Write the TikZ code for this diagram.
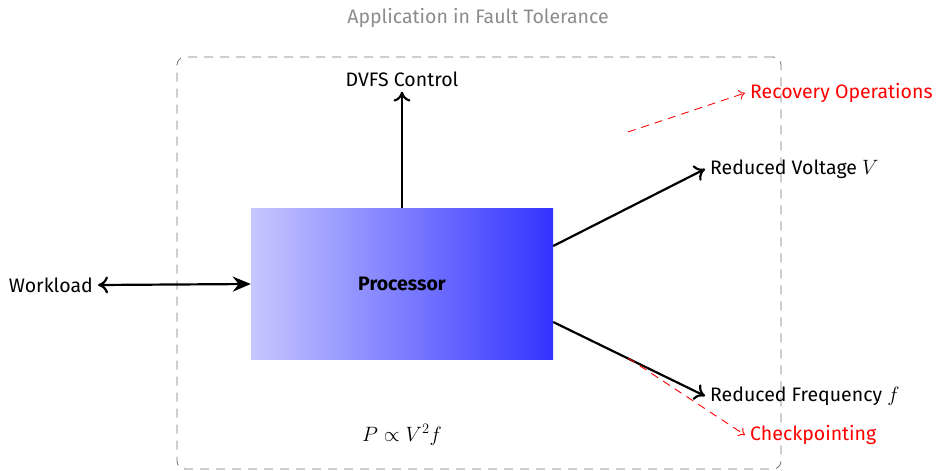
\documentclass[tikz,border=0pt]{standalone}
\usepackage{fontspec}
\setmainfont{Fira Sans}
\usepackage{tikz}
\usetikzlibrary{arrows.meta, calc}
\usetikzlibrary{shapes}
\tikzset{
  plain/.style = {font=\fontsize{19.5}{23}\selectfont, inner sep=5pt},
  proc/.style = {rectangle, left color=blue!22, right color=blue!80, minimum width=302pt, minimum height=151pt, font=\fontsize{19.5}{23}\selectfont\bfseries},
  frame/.style = {rectangle, rounded corners=8pt, draw=black!55, dash pattern=on 9pt off 7pt, line width=0.8pt, minimum width=604pt, minimum height=412pt},
  flow/.style = {draw, line width=2.2pt, -{To[length=10pt,width=17pt]}},
  note/.style = {plain, red},
  fault/.style = {draw=red, line width=0.9pt, dash pattern=on 8pt off 6pt, -{To[length=6pt,width=10pt]}}
}

\begin{document}
\begin{tikzpicture}[x=1pt, y=-1pt]
    \useasboundingbox (0,0) rectangle (937,471);
    \node[frame] (box) at (479,263) {};
    \node[plain, text=black!45] (title) at (478,18) {Application in Fault Tolerance};
    \node[proc] (cpu) at (402,284) {Processor};
    \node[plain, anchor=east] (work) at (98,285) {Workload};
    \node[plain] (dvfs) at (402,79) {DVFS Control};
    \node[plain, anchor=west] (volt) at (705,169) {Reduced Voltage $V$};
    \node[plain, anchor=west] (freq) at (705,396) {Reduced Frequency $f$};
    \node[note, anchor=west] (rec) at (745,93) {Recovery Operations};
    \node[note, anchor=west] (chk) at (745,435) {Checkpointing};
    \node[plain] (power) at (402,435) {$P \propto V^2 f$};
    \coordinate (recstart) at (628,132);
    \coordinate (chkstart) at (628,358);
		% main flows
    \draw[line width=2.2pt, {To[length=10pt,width=17pt]}-{Stealth[length=18pt,width=15pt]}] (work.east) -- (cpu.west);
    \draw[flow] (cpu.east |- 0,246) -- (volt.west);
    \draw[flow] (cpu.north) -- (dvfs.south);
    \draw[flow] (cpu.east |- 0,322) -- (freq.west);
		% fault tolerance
    \draw[fault] (recstart) -- (rec.west);
    \draw[fault] (chkstart) -- (chk.west);
\end{tikzpicture}
\end{document}
